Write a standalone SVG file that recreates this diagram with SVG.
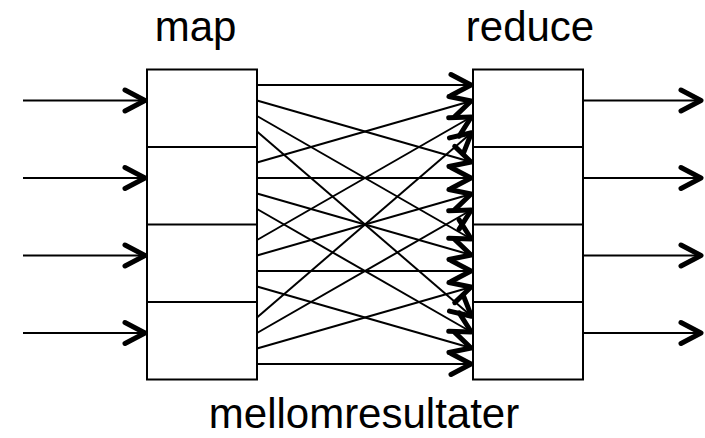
<svg xmlns="http://www.w3.org/2000/svg" width="705" height="438" viewBox="0 0 705 438">
<style>
.box{fill:#fff;stroke:#000;stroke-width:2}
.div{stroke:#000;stroke-width:2}
.c{stroke:#000;stroke-width:2;fill:none;marker-end:url(#ah)}
text{font-family:"Liberation Sans",Arial,sans-serif;font-size:42px;fill:#000}
</style>
<defs>
<marker id="ah" markerUnits="userSpaceOnUse" viewBox="-30 -15 34 30" refX="0" refY="0" markerWidth="34" markerHeight="30" orient="auto" overflow="visible">
<path d="M-22,-10.5 L-2,0 L-22,10.5" fill="none" stroke="#000" stroke-width="5" stroke-linecap="round" stroke-linejoin="round"/>
</marker>
</defs>
<rect width="705" height="438" fill="#fff"/>
<g id="connectors">
<line class="c" x1="23" y1="100.5" x2="147" y2="100.5"/>
<line class="c" x1="23" y1="178" x2="147" y2="178"/>
<line class="c" x1="23" y1="255.5" x2="147" y2="255.5"/>
<line class="c" x1="23" y1="333" x2="147" y2="333"/>
<line class="c" x1="583" y1="100.5" x2="703" y2="100.5"/>
<line class="c" x1="583" y1="178" x2="703" y2="178"/>
<line class="c" x1="583" y1="255.5" x2="703" y2="255.5"/>
<line class="c" x1="583" y1="333" x2="703" y2="333"/>
<line class="c" x1="257" y1="85" x2="473" y2="85"/>
<line class="c" x1="257" y1="100.5" x2="473" y2="162.5"/>
<line class="c" x1="257" y1="116" x2="473" y2="240"/>
<line class="c" x1="257" y1="131.5" x2="473" y2="317.5"/>
<line class="c" x1="257" y1="162.5" x2="473" y2="100.5"/>
<line class="c" x1="257" y1="178" x2="473" y2="178"/>
<line class="c" x1="257" y1="193.5" x2="473" y2="255.5"/>
<line class="c" x1="257" y1="209" x2="473" y2="333"/>
<line class="c" x1="257" y1="240" x2="473" y2="116"/>
<line class="c" x1="257" y1="255.5" x2="473" y2="193.5"/>
<line class="c" x1="257" y1="271" x2="473" y2="271"/>
<line class="c" x1="257" y1="286.5" x2="473" y2="348.5"/>
<line class="c" x1="257" y1="317.5" x2="473" y2="131.5"/>
<line class="c" x1="257" y1="333" x2="473" y2="209"/>
<line class="c" x1="257" y1="348.5" x2="473" y2="286.5"/>
<line class="c" x1="257" y1="364" x2="473" y2="364"/>
</g>
<g id="map">
<rect class="box" x="147" y="69.5" width="110" height="310"/>
<line class="div" x1="147" y1="147" x2="257" y2="147"/>
<line class="div" x1="147" y1="224.5" x2="257" y2="224.5"/>
<line class="div" x1="147" y1="302" x2="257" y2="302"/>
<text x="195.5" y="41" text-anchor="middle">map</text>
</g>
<g id="reduce">
<rect class="box" x="473" y="69.5" width="110" height="310"/>
<line class="div" x1="473" y1="147" x2="583" y2="147"/>
<line class="div" x1="473" y1="224.5" x2="583" y2="224.5"/>
<line class="div" x1="473" y1="302" x2="583" y2="302"/>
<text x="530" y="41" text-anchor="middle">reduce</text>
</g>
<g id="label">
<text x="364" y="428" text-anchor="middle">mellomresultater</text>
</g>
</svg>
